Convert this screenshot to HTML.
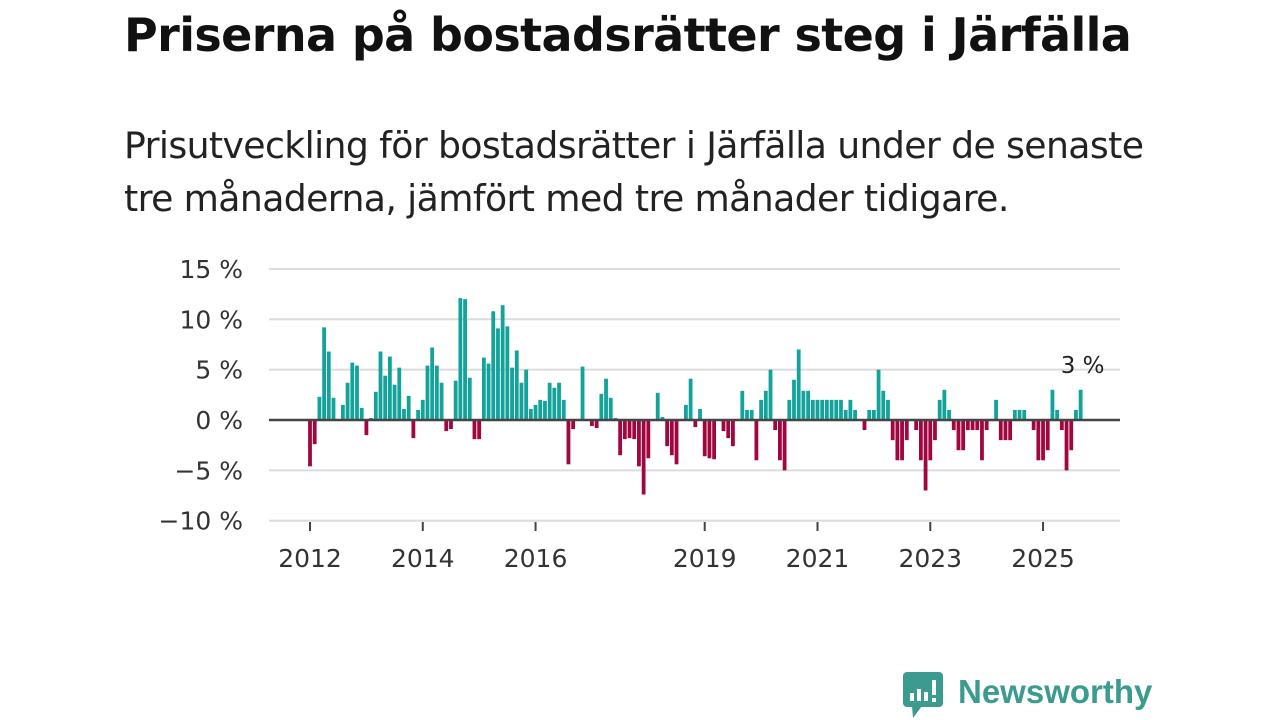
<!DOCTYPE html>
<html><head><meta charset="utf-8"><style>
body{margin:0;width:1280px;height:720px;background:#fff;font-family:"Liberation Sans","DejaVu Sans",sans-serif;overflow:hidden;position:relative}
#title{position:absolute;left:124px;top:8px;font-size:46px;font-weight:bold;color:#111;margin:0;letter-spacing:-0.6px;font-family:"DejaVu Sans","Liberation Sans",sans-serif}
#sub{position:absolute;left:124px;top:119px;font-size:36.2px;line-height:53px;color:#222;width:1100px;font-family:"DejaVu Sans","Liberation Sans",sans-serif;letter-spacing:-0.6px}
svg{position:absolute;left:0;top:0}
</style></head><body>
<h1 id="title">Priserna på bostadsrätter steg i Järfälla</h1>
<div id="sub">Prisutveckling för bostadsrätter i Järfälla under de senaste<br>tre månaderna, jämfört med tre månader tidigare.</div>
<svg id="chart" width="1280" height="720"></svg>
<script>
const values=[-4.6,-2.4,2.3,9.2,6.8,2.2,0,1.5,3.7,5.7,5.4,1.2,-1.5,0.2,2.8,6.8,4.4,6.3,3.5,5.2,1.1,2.4,-1.8,1.0,2.0,5.4,7.2,5.4,3.7,-1.1,-0.9,3.9,12.1,12.0,4.2,-1.9,-1.9,6.2,5.6,10.8,9.1,11.4,9.3,5.2,6.9,3.7,5.0,1.1,1.5,2.0,1.9,3.7,3.2,3.7,2.0,-4.4,-0.9,
0,5.3,0,-0.6,-0.8,2.6,4.1,2.2,0.2,-3.5,-1.9,-1.8,-1.9,-4.6,-7.4,-3.8,0,2.7,0.3,-2.6,-3.5,-4.4,0,1.5,4.1,-0.7,1.1,-3.6,-3.8,-3.9,0,-1.1,-1.8,-2.6,0,2.9,1.0,1.0,-4.0,2.0,2.9,5.0,-1.0,-4.0,-5.0,2.0,4.0,7.0,2.9,2.9,2.0,2.0,2.0,2.0,2.0,2.0,2.0,1.0,2.0,1.0,0,-1.0,1.0,1.0,5.0,2.9,2.0,-2.0,-4.0,-4.0,-2.0,0,-1.0,-4.0,-7.0,-4.0,-2.0,2.0,3.0,1.0,-1.0,-3.0,-3.0,-1.0,-1.0,-1.0,-4.0,-1.0,0,2.0,-2.0,-2.0,-2.0,1.0,1.0,1.0,0,-1.0,-4.0,-4.0,-3.0,3.0,1.0,-1.0,-5.0,-3.0,1.0,3.0];
const startYear=2012;
const yTicks=[15,10,5,0,-5,-10];
const xTickYears=[2012,2014,2016,2019,2021,2023,2025];
const lastLabel="3 %";
const NS="http://www.w3.org/2000/svg";
const svg=document.getElementById('chart');
const x=m=>310+m*4.699;
const y=v=>420-v*10.07;
function mk(t,a){const e=document.createElementNS(NS,t);for(const k in a)e.setAttribute(k,a[k]);svg.appendChild(e);return e;}
yTicks.forEach(v=>{
 const g=mk('line',{x1:269,x2:1120,y1:y(v),y2:y(v),stroke:'#dcdcdc','stroke-width':2});
 
 
 const t=mk('text',{x:243,y:y(v)+9,'text-anchor':'end','font-size':25,fill:'#333','font-family':'DejaVu Sans, Liberation Sans, sans-serif'});
 t.textContent=(v<0?'\u2212'+(-v):v)+' %';
 
 
});
values.forEach((v,i)=>{
 if(v===0)return;
 const r=mk('rect',{x:x(i)-1.9,width:3.8,y:v>0?y(v):420,height:Math.abs(v)*10.07,fill:v>0?'#14a39a':'#a1063f'});
 
 
});
const z=mk('line',{x1:269,x2:1120,y1:420,y2:420,stroke:'#444','stroke-width':2.5});


xTickYears.forEach(yr=>{
 const px=x((yr-startYear)*12);
 const l=mk('line',{x1:px,x2:px,y1:522,y2:531,stroke:'#444','stroke-width':2});
 
 
 const t=mk('text',{x:px,y:567,'text-anchor':'middle','font-size':25,fill:'#333','font-family':'DejaVu Sans, Liberation Sans, sans-serif'});
 t.textContent=yr;
 
 
});
const li=values.length-1;
const lb=mk('text',{x:x(li)+2,y:373,'text-anchor':'middle','font-size':23,fill:'#222','font-family':'DejaVu Sans, Liberation Sans, sans-serif'});
lb.textContent=lastLabel;


</script>
<svg width="1280" height="720" style="pointer-events:none">
<rect x="903" y="672" width="40" height="35" rx="4" fill="#3b9b8f"/>
<polygon points="912,706 922,706 913,718" fill="#3b9b8f"/>
<rect x="910" y="693" width="4" height="8" fill="#fff"/><rect x="917" y="689" width="4" height="12" fill="#fff"/><rect x="924" y="692" width="4" height="9" fill="#fff"/><rect x="932" y="680" width="4" height="15" fill="#fff"/><rect x="932" y="698" width="4" height="4" fill="#fff"/>
<text x="958" y="703" font-size="33" font-weight="bold" fill="#3b9b8f" font-family="Liberation Sans, sans-serif">Newsworthy</text>
</svg>
</body></html>
